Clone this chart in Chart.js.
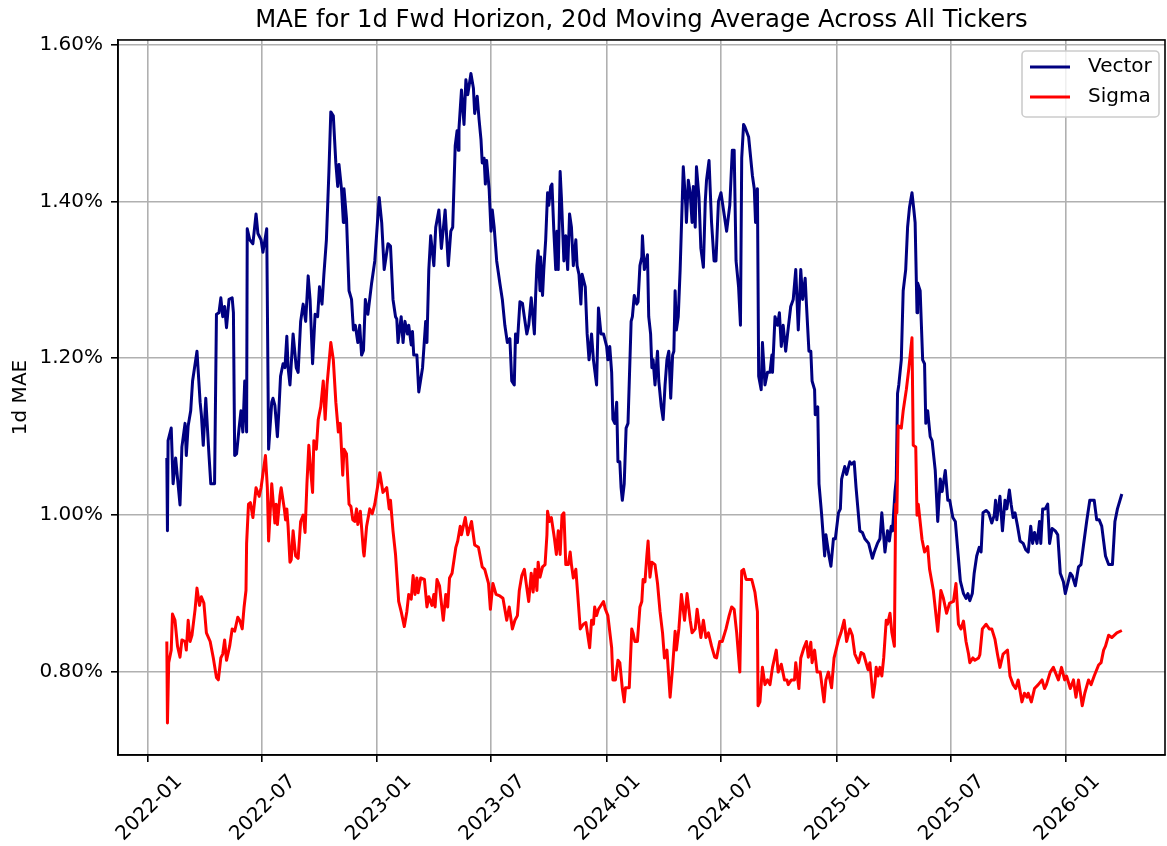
<!DOCTYPE html>
<html>
<head>
<meta charset="utf-8">
<title>MAE for 1d Fwd Horizon</title>
<script src="https://cdn.jsdelivr.net/npm/chart.js@4/dist/chart.umd.min.js"></script>
<style>
  html, body { margin: 0; padding: 0; background: #fff; }
  #chart-div { width: 1167px; height: 846px; }
</style>
</head>
<body>
<div id="chart-div"><canvas id="mae-chart" width="1167" height="846"></canvas></div>
<script>
// values are MAE in percent
const vectorDates = [
  '2022-01-31','2022-02-01','2022-02-02','2022-02-07','2022-02-10','2022-02-14','2022-02-21','2022-02-24','2022-03-01','2022-03-03',
  '2022-03-06','2022-03-10','2022-03-13','2022-03-20','2022-03-25','2022-03-27','2022-03-30','2022-04-03','2022-04-06','2022-04-08',
  '2022-04-11','2022-04-17','2022-04-20','2022-04-24','2022-04-27','2022-04-30','2022-05-03','2022-05-06','2022-05-10','2022-05-15',
  '2022-05-17','2022-05-19','2022-05-22','2022-05-26','2022-05-29','2022-06-01','2022-06-04','2022-06-07','2022-06-08','2022-06-12',
  '2022-06-17','2022-06-22','2022-06-25','2022-06-30','2022-07-03','2022-07-09','2022-07-12','2022-07-17','2022-07-19','2022-07-22',
  '2022-07-26','2022-07-28','2022-07-31','2022-08-04','2022-08-07','2022-08-10','2022-08-12','2022-08-15','2022-08-20','2022-08-25',
  '2022-08-28','2022-09-01','2022-09-05','2022-09-09','2022-09-13','2022-09-16','2022-09-20','2022-09-24','2022-09-28','2022-10-01',
  '2022-10-05','2022-10-08','2022-10-12','2022-10-16','2022-10-19','2022-10-23','2022-10-27','2022-10-30','2022-11-01','2022-11-05',
  '2022-11-08','2022-11-09','2022-11-13','2022-11-17','2022-11-21','2022-11-24','2022-11-27','2022-12-01','2022-12-04','2022-12-07',
  '2022-12-10','2022-12-13','2022-12-17','2022-12-23','2022-12-28','2023-01-04','2023-01-08','2023-01-12','2023-01-18','2023-01-22',
  '2023-01-26','2023-01-30','2023-02-01','2023-02-03','2023-02-08','2023-02-11','2023-02-14','2023-02-18','2023-02-20','2023-02-24',
  '2023-02-26','2023-02-28','2023-03-05','2023-03-08','2023-03-14','2023-03-19','2023-03-21','2023-03-24','2023-03-27','2023-04-01',
  '2023-04-04','2023-04-09','2023-04-13','2023-04-19','2023-04-24','2023-04-28','2023-05-01','2023-05-05','2023-05-08','2023-05-10',
  '2023-05-11','2023-05-15','2023-05-19','2023-05-22','2023-05-25','2023-05-30','2023-06-03','2023-06-05','2023-06-09','2023-06-12',
  '2023-06-15','2023-06-17','2023-06-20','2023-06-22','2023-06-24','2023-06-28','2023-07-01','2023-07-03','2023-07-06','2023-07-10',
  '2023-07-15','2023-07-19','2023-07-23','2023-07-27','2023-07-31','2023-08-03','2023-08-07','2023-08-09','2023-08-12','2023-08-16',
  '2023-08-20','2023-08-23','2023-08-27','2023-08-30','2023-09-03','2023-09-08','2023-09-10','2023-09-12','2023-09-14','2023-09-17',
  '2023-09-18','2023-09-21','2023-09-23','2023-09-26','2023-09-29','2023-10-01','2023-10-04','2023-10-06','2023-10-09','2023-10-12',
  '2023-10-14','2023-10-16','2023-10-19','2023-10-21','2023-10-25','2023-10-28','2023-10-31','2023-11-03','2023-11-06','2023-11-09',
  '2023-11-13','2023-11-15','2023-11-18','2023-11-21','2023-11-23','2023-11-28','2023-12-01','2023-12-04','2023-12-08','2023-12-11',
  '2023-12-16','2023-12-19','2023-12-23','2023-12-27','2024-01-01','2024-01-03','2024-01-06','2024-01-09','2024-01-11','2024-01-14',
  '2024-01-17','2024-01-19','2024-01-22','2024-01-24','2024-01-26','2024-01-29','2024-02-01','2024-02-04','2024-02-09','2024-02-11',
  '2024-02-14','2024-02-18','2024-02-20','2024-02-23','2024-02-26','2024-02-27','2024-03-01','2024-03-06','2024-03-08','2024-03-11',
  '2024-03-13','2024-03-15','2024-03-18','2024-03-22','2024-03-24','2024-03-28','2024-03-31','2024-04-03','2024-04-06','2024-04-09',
  '2024-04-12','2024-04-15','2024-04-17','2024-04-19','2024-04-21','2024-04-24','2024-04-27','2024-05-02','2024-05-06','2024-05-07',
  '2024-05-10','2024-05-13','2024-05-16','2024-05-18','2024-05-21','2024-05-23','2024-05-27','2024-05-30','2024-06-03','2024-06-06',
  '2024-06-08','2024-06-12','2024-06-16','2024-06-20','2024-06-23','2024-06-27','2024-07-01','2024-07-05','2024-07-10','2024-07-15',
  '2024-07-19','2024-07-22','2024-07-25','2024-07-29','2024-08-01','2024-08-03','2024-08-06','2024-08-08','2024-08-14','2024-08-20',
  '2024-08-23','2024-08-25','2024-08-28','2024-08-30','2024-09-03','2024-09-05','2024-09-09','2024-09-13','2024-09-17','2024-09-20',
  '2024-09-21','2024-09-25','2024-09-29','2024-10-02','2024-10-05','2024-10-08','2024-10-12','2024-10-15','2024-10-20','2024-10-24',
  '2024-10-28','2024-11-01','2024-11-05','2024-11-08','2024-11-12','2024-11-14','2024-11-18','2024-11-21','2024-11-23','2024-11-27',
  '2024-11-28','2024-12-02','2024-12-04','2024-12-08','2024-12-13','2024-12-15','2024-12-20','2024-12-23','2024-12-27','2024-12-30',
  '2025-01-04','2025-01-07','2025-01-09','2025-01-14','2025-01-17','2025-01-22','2025-01-25','2025-01-29','2025-02-01','2025-02-07',
  '2025-02-11','2025-02-15','2025-02-21','2025-02-27','2025-03-02','2025-03-07','2025-03-11','2025-03-14','2025-03-19','2025-03-23',
  '2025-03-26','2025-03-29','2025-03-31','2025-04-04','2025-04-06','2025-04-08','2025-04-10','2025-04-14','2025-04-17','2025-04-21',
  '2025-04-24','2025-04-27','2025-05-01','2025-05-04','2025-05-06','2025-05-09','2025-05-10','2025-05-14','2025-05-18','2025-05-21',
  '2025-05-23','2025-05-26','2025-05-30','2025-06-02','2025-06-07','2025-06-11','2025-06-15','2025-06-18','2025-06-23','2025-06-27',
  '2025-06-30','2025-07-05','2025-07-09','2025-07-17','2025-07-22','2025-07-26','2025-07-29','2025-08-01','2025-08-05','2025-08-08',
  '2025-08-12','2025-08-16','2025-08-19','2025-08-22','2025-08-27','2025-08-31','2025-09-05','2025-09-09','2025-09-11','2025-09-13',
  '2025-09-18','2025-09-22','2025-09-26','2025-09-29','2025-10-03','2025-10-06','2025-10-09','2025-10-12','2025-10-16','2025-10-20',
  '2025-10-25','2025-10-29','2025-11-02','2025-11-06','2025-11-09','2025-11-12','2025-11-16','2025-11-20','2025-11-22','2025-11-25',
  '2025-11-29','2025-12-03','2025-12-06','2025-12-10','2025-12-15','2025-12-19','2025-12-23','2025-12-28','2025-12-31','2026-01-08',
  '2026-01-11','2026-01-16','2026-01-21','2026-01-25','2026-01-29','2026-02-03','2026-02-08','2026-02-15','2026-02-19','2026-02-23',
  '2026-02-27','2026-03-05','2026-03-10','2026-03-16','2026-03-20','2026-03-24','2026-03-31'
];
const vectorValues = [
  1.073,0.980,1.095,1.111,1.040,1.073,1.013,1.087,1.117,1.076,
  1.114,1.133,1.171,1.209,1.144,1.128,1.089,1.149,1.106,1.078,
  1.040,1.040,1.256,1.258,1.277,1.253,1.266,1.239,1.275,1.277,
  1.258,1.076,1.078,1.111,1.133,1.106,1.171,1.106,1.365,1.351,
  1.346,1.384,1.359,1.351,1.335,1.365,1.084,1.144,1.149,1.140,
  1.100,1.128,1.177,1.193,1.188,1.228,1.188,1.166,1.231,1.188,
  1.182,1.247,1.269,1.247,1.305,1.275,1.193,1.256,1.253,1.291,
  1.269,1.307,1.351,1.438,1.514,1.509,1.449,1.419,1.447,1.416,
  1.373,1.416,1.378,1.286,1.275,1.236,1.242,1.220,1.242,1.204,
  1.210,1.275,1.256,1.296,1.324,1.405,1.373,1.313,1.346,1.343,
  1.275,1.253,1.250,1.220,1.253,1.220,1.247,1.231,1.242,1.217,
  1.234,1.204,1.204,1.157,1.188,1.247,1.220,1.313,1.356,1.318,
  1.367,1.389,1.340,1.389,1.318,1.362,1.367,1.471,1.490,1.465,
  1.493,1.542,1.498,1.555,1.536,1.563,1.544,1.512,1.534,1.504,
  1.479,1.449,1.455,1.422,1.452,1.416,1.362,1.389,1.367,1.324,
  1.296,1.275,1.242,1.220,1.225,1.171,1.166,1.231,1.220,1.272,
  1.270,1.253,1.231,1.242,1.277,1.231,1.280,1.318,1.337,1.286,
  1.329,1.280,1.313,1.351,1.411,1.395,1.419,1.422,1.362,1.313,
  1.362,1.313,1.438,1.405,1.324,1.356,1.313,1.384,1.367,1.318,
  1.351,1.318,1.307,1.269,1.307,1.291,1.231,1.198,1.231,1.198,
  1.166,1.264,1.231,1.231,1.215,1.198,1.215,1.182,1.122,1.117,
  1.144,1.068,1.068,1.035,1.019,1.040,1.111,1.117,1.247,1.253,
  1.280,1.269,1.272,1.318,1.329,1.356,1.313,1.332,1.253,1.231,
  1.188,1.198,1.166,1.209,1.171,1.138,1.122,1.166,1.198,1.209,
  1.149,1.204,1.209,1.286,1.236,1.253,1.313,1.444,1.395,1.373,
  1.427,1.411,1.373,1.419,1.367,1.444,1.405,1.340,1.316,1.400,
  1.427,1.452,1.373,1.324,1.324,1.400,1.411,1.389,1.362,1.395,
  1.465,1.465,1.324,1.291,1.242,1.455,1.498,1.495,1.482,1.433,
  1.416,1.373,1.416,1.177,1.160,1.220,1.166,1.182,1.182,1.204,
  1.182,1.253,1.242,1.258,1.215,1.242,1.209,1.231,1.266,1.275,
  1.313,1.236,1.313,1.275,1.302,1.269,1.209,1.209,1.171,1.160,
  1.128,1.138,1.040,1.003,0.948,0.975,0.948,0.935,0.970,0.970,
  1.003,1.008,1.046,1.062,1.052,1.068,1.065,1.068,1.035,0.980,
  0.978,0.970,0.964,0.945,0.953,0.964,0.970,1.003,0.953,0.980,
  0.967,0.986,0.980,1.030,1.046,1.155,1.166,1.198,1.286,1.313,
  1.367,1.392,1.411,1.389,1.373,1.258,1.296,1.286,1.198,1.193,
  1.117,1.133,1.100,1.095,1.057,0.992,1.046,1.030,1.057,1.019,
  1.019,0.997,0.992,0.916,0.900,0.894,0.900,0.891,0.900,0.926,
  0.948,0.959,0.953,1.003,1.006,1.003,0.990,1.000,1.019,0.994,
  1.024,0.980,1.019,1.008,1.032,1.013,0.997,1.003,0.986,0.967,
  0.964,0.956,0.953,0.986,0.964,0.978,0.964,0.992,0.964,1.008,
  1.008,1.014,0.964,0.983,0.980,0.975,0.926,0.915,0.900,0.926,
  0.923,0.910,0.934,0.937,0.962,0.992,1.019,1.019,0.994,0.994,
  0.986,0.948,0.937,0.937,0.992,1.008,1.027
];

const sigmaDates = [
  '2022-01-31','2022-02-01','2022-02-03','2022-02-07','2022-02-09','2022-02-13','2022-02-17','2022-02-21','2022-02-24','2022-03-01',
  '2022-03-03','2022-03-06','2022-03-09','2022-03-12','2022-03-17','2022-03-20','2022-03-24','2022-03-27','2022-03-31','2022-04-04',
  '2022-04-10','2022-04-15','2022-04-20','2022-04-23','2022-04-27','2022-04-30','2022-05-03','2022-05-06','2022-05-11','2022-05-15',
  '2022-05-19','2022-05-24','2022-05-27','2022-05-31','2022-06-03','2022-06-06','2022-06-07','2022-06-10','2022-06-13','2022-06-17',
  '2022-06-22','2022-06-27','2022-06-30','2022-07-07','2022-07-10','2022-07-12','2022-07-17','2022-07-22','2022-07-24','2022-07-26',
  '2022-07-30','2022-08-01','2022-08-06','2022-08-08','2022-08-10','2022-08-12','2022-08-15','2022-08-17','2022-08-20','2022-08-24',
  '2022-08-28','2022-09-01','2022-09-05','2022-09-08','2022-09-11','2022-09-14','2022-09-17','2022-09-20','2022-09-22','2022-09-26',
  '2022-09-29','2022-10-03','2022-10-07','2022-10-10','2022-10-13','2022-10-19','2022-10-23','2022-10-27','2022-10-31','2022-11-03',
  '2022-11-07','2022-11-09','2022-11-13','2022-11-17','2022-11-20','2022-11-23','2022-11-26','2022-11-29','2022-12-01','2022-12-05',
  '2022-12-10','2022-12-11','2022-12-15','2022-12-20','2022-12-24','2022-12-28','2023-01-05','2023-01-10','2023-01-16','2023-01-20',
  '2023-01-22','2023-01-26','2023-01-30','2023-02-04','2023-02-08','2023-02-13','2023-02-17','2023-02-20','2023-02-24','2023-02-27',
  '2023-03-02','2023-03-05','2023-03-07','2023-03-11','2023-03-17','2023-03-21','2023-03-24','2023-03-29','2023-04-01','2023-04-03',
  '2023-04-06','2023-04-10','2023-04-16','2023-04-20','2023-04-23','2023-04-26','2023-04-30','2023-05-06','2023-05-09','2023-05-13',
  '2023-05-15','2023-05-21','2023-05-25','2023-05-31','2023-06-05','2023-06-11','2023-06-17','2023-06-21','2023-06-27','2023-06-30',
  '2023-07-04','2023-07-09','2023-07-15','2023-07-20','2023-07-26','2023-07-30','2023-08-04','2023-08-08','2023-08-12','2023-08-15',
  '2023-08-19','2023-08-23','2023-08-27','2023-08-30','2023-09-03','2023-09-06','2023-09-09','2023-09-12','2023-09-14','2023-09-17',
  '2023-09-21','2023-09-25','2023-09-28','2023-09-29','2023-10-02','2023-10-05','2023-10-10','2023-10-13','2023-10-16','2023-10-19',
  '2023-10-22','2023-10-25','2023-10-28','2023-11-01','2023-11-04','2023-11-06','2023-11-09','2023-11-13','2023-11-16','2023-11-20',
  '2023-11-25','2023-11-29','2023-12-05','2023-12-08','2023-12-11','2023-12-13','2023-12-16','2023-12-19','2023-12-27','2023-12-30',
  '2024-01-03','2024-01-09','2024-01-11','2024-01-15','2024-01-19','2024-01-22','2024-01-26','2024-01-29','2024-01-31','2024-02-06',
  '2024-02-10','2024-02-12','2024-02-15','2024-02-19','2024-02-23','2024-02-26','2024-02-28','2024-03-02','2024-03-05','2024-03-07',
  '2024-03-10','2024-03-13','2024-03-18','2024-03-22','2024-03-26','2024-03-30','2024-04-02','2024-04-06','2024-04-11','2024-04-15',
  '2024-04-19','2024-04-21','2024-04-25','2024-04-29','2024-05-04','2024-05-08','2024-05-13','2024-05-16','2024-05-21','2024-05-24',
  '2024-05-30','2024-06-03','2024-06-07','2024-06-11','2024-06-16','2024-06-21','2024-06-24','2024-06-29','2024-07-03','2024-07-09',
  '2024-07-14','2024-07-18','2024-07-22','2024-07-26','2024-07-31','2024-08-03','2024-08-06','2024-08-10','2024-08-19','2024-08-24',
  '2024-08-28','2024-08-29','2024-09-01','2024-09-05','2024-09-09','2024-09-13','2024-09-17','2024-09-21','2024-09-27','2024-09-30',
  '2024-10-05','2024-10-10','2024-10-14','2024-10-16','2024-10-21','2024-10-26','2024-10-28','2024-11-02','2024-11-05','2024-11-10',
  '2024-11-14','2024-11-17','2024-11-21','2024-11-23','2024-11-27','2024-12-01','2024-12-06','2024-12-12','2024-12-15','2024-12-19',
  '2024-12-24','2024-12-28','2024-12-31','2025-01-04','2025-01-08','2025-01-13','2025-01-17','2025-01-22','2025-01-26','2025-01-30',
  '2025-02-05','2025-02-09','2025-02-13','2025-02-20','2025-02-23','2025-02-28','2025-03-03','2025-03-05','2025-03-08','2025-03-11',
  '2025-03-14','2025-03-17','2025-03-21','2025-03-23','2025-03-27','2025-03-30','2025-04-03','2025-04-05','2025-04-07','2025-04-09',
  '2025-04-14','2025-04-17','2025-04-22','2025-04-26','2025-05-01','2025-05-03','2025-05-07','2025-05-09','2025-05-11','2025-05-17',
  '2025-05-21','2025-05-26','2025-05-29','2025-06-04','2025-06-11','2025-06-16','2025-06-20','2025-06-25','2025-06-30','2025-07-06',
  '2025-07-10','2025-07-14','2025-07-18','2025-07-22','2025-07-26','2025-07-30','2025-08-01','2025-08-06','2025-08-09','2025-08-15',
  '2025-08-17','2025-08-21','2025-08-27','2025-09-01','2025-09-05','2025-09-10','2025-09-14','2025-09-18','2025-09-23','2025-09-30',
  '2025-10-04','2025-10-09','2025-10-13','2025-10-17','2025-10-23','2025-10-27','2025-10-31','2025-11-02','2025-11-07','2025-11-12',
  '2025-11-18','2025-11-24','2025-11-28','2025-12-01','2025-12-07','2025-12-12','2025-12-16','2025-12-20','2025-12-25','2025-12-30',
  '2026-01-02','2026-01-08','2026-01-13','2026-01-17','2026-01-21','2026-01-27','2026-01-31','2026-02-06','2026-02-10','2026-02-15',
  '2026-02-22','2026-02-26','2026-03-02','2026-03-05','2026-03-10','2026-03-15','2026-03-23','2026-03-31'
];
const sigmaValues = [
  0.839,0.735,0.812,0.828,0.874,0.866,0.833,0.819,0.841,0.839,
  0.828,0.866,0.839,0.847,0.880,0.907,0.885,0.896,0.888,0.850,
  0.839,0.818,0.793,0.790,0.818,0.823,0.841,0.815,0.833,0.855,
  0.852,0.870,0.866,0.855,0.883,0.904,0.964,1.014,1.016,0.997,
  1.035,1.024,1.035,1.076,1.035,0.967,1.040,0.990,1.014,0.988,
  1.024,1.035,1.008,0.994,1.008,0.986,0.940,0.943,0.980,0.948,
  0.945,0.992,1.000,0.978,1.040,1.089,1.057,1.029,1.095,1.084,
  1.122,1.138,1.171,1.122,1.166,1.220,1.198,1.144,1.106,1.117,
  1.051,1.084,1.078,1.014,1.011,0.994,0.992,1.008,0.988,1.005,
  0.953,0.948,0.986,1.008,1.002,1.014,1.054,1.029,1.035,1.008,
  1.019,0.980,0.950,0.890,0.877,0.858,0.877,0.899,0.893,0.923,
  0.899,0.920,0.901,0.920,0.918,0.883,0.896,0.885,0.899,0.883,
  0.918,0.910,0.866,0.899,0.883,0.920,0.926,0.959,0.967,0.986,
  0.975,0.997,0.975,0.992,0.962,0.959,0.934,0.931,0.913,0.880,
  0.913,0.899,0.897,0.894,0.866,0.883,0.855,0.866,0.872,0.904,
  0.923,0.931,0.907,0.890,0.926,0.902,0.931,0.904,0.940,0.921,
  0.934,0.937,0.975,1.005,0.992,0.997,0.970,0.950,0.980,0.950,
  1.000,1.003,0.937,0.937,0.953,0.937,0.920,0.931,0.899,0.855,
  0.861,0.863,0.831,0.866,0.861,0.883,0.872,0.880,0.890,0.880,
  0.872,0.831,0.790,0.790,0.815,0.812,0.779,0.762,0.780,0.780,
  0.855,0.850,0.839,0.839,0.883,0.890,0.918,0.915,0.948,0.967,
  0.921,0.940,0.937,0.913,0.877,0.850,0.818,0.828,0.768,0.806,
  0.852,0.828,0.855,0.899,0.866,0.900,0.866,0.850,0.855,0.880,
  0.844,0.866,0.844,0.850,0.833,0.819,0.818,0.839,0.839,0.855,
  0.872,0.883,0.880,0.850,0.800,0.929,0.931,0.918,0.918,0.902,
  0.877,0.757,0.762,0.806,0.784,0.790,0.784,0.806,0.828,0.800,
  0.810,0.790,0.790,0.784,0.790,0.790,0.812,0.779,0.818,0.831,
  0.839,0.819,0.838,0.812,0.828,0.800,0.800,0.762,0.790,0.800,
  0.780,0.818,0.828,0.841,0.850,0.866,0.839,0.855,0.847,0.823,
  0.812,0.825,0.823,0.803,0.812,0.768,0.785,0.806,0.795,0.806,
  0.795,0.818,0.866,0.861,0.875,0.850,0.833,1.014,1.003,1.114,
  1.111,1.133,1.160,1.187,1.226,1.089,1.087,1.000,1.014,0.969,
  0.953,0.960,0.931,0.904,0.852,0.904,0.894,0.875,0.888,0.890,
  0.913,0.861,0.855,0.865,0.839,0.823,0.812,0.818,0.815,0.818,
  0.822,0.855,0.861,0.855,0.855,0.842,0.823,0.806,0.823,0.828,
  0.795,0.784,0.779,0.790,0.762,0.773,0.768,0.773,0.762,0.779,
  0.784,0.790,0.779,0.784,0.800,0.806,0.798,0.790,0.806,0.790,
  0.795,0.779,0.790,0.768,0.790,0.757,0.773,0.790,0.784,0.795,
  0.809,0.812,0.828,0.833,0.847,0.844,0.850,0.853
];

const xTickLabels = ['2022-01', '2022-07', '2023-01', '2023-07', '2024-01', '2024-07', '2025-01', '2025-07', '2026-01'];
const yTickValues = [0.8, 1.0, 1.2, 1.4, 1.6];

const DAY = 86400000;
const origin = Date.parse('2022-01-01');
const dayOf = (s) => (Date.parse(s) - origin) / DAY;

const toPoints = (dates, values) => dates.map((d, i) => ({ x: dayOf(d), y: values[i] }));

Chart.defaults.font.family = "'DejaVu Sans', sans-serif";
Chart.defaults.color = '#000';

// matplotlib style box around the axes + legend in upper right
const framePlugin = {
    id: 'frame',
    afterDatasetsDraw(chart) {
        const { ctx, chartArea } = chart;
        ctx.save();
        ctx.strokeStyle = '#000';
        ctx.lineWidth = 1.6;
        ctx.strokeRect(chartArea.left, chartArea.top, chartArea.right - chartArea.left, chartArea.bottom - chartArea.top);

        const w = 137, h = 66;
        const x = chartArea.right - 6 - w, y = chartArea.top + 11;
        ctx.beginPath();
        ctx.roundRect(x, y, w, h, 4);
        ctx.fillStyle = 'rgba(255,255,255,0.8)';
        ctx.fill();
        ctx.strokeStyle = '#cccccc';
        ctx.lineWidth = 1.6;
        ctx.stroke();

        const entries = [['Vector', '#000080'], ['Sigma', '#ff0000']];
        ctx.font = "20px 'DejaVu Sans'";
        ctx.textBaseline = 'middle';
        ctx.textAlign = 'left';
        entries.forEach(([label, color], i) => {
            const cy = y + 16 + i * 30;
            ctx.beginPath();
            ctx.moveTo(x + 8, cy);
            ctx.lineTo(x + 48, cy);
            ctx.strokeStyle = color;
            ctx.lineWidth = 3;
            ctx.stroke();
            ctx.fillStyle = '#000';
            ctx.fillText(label, x + 66, cy);
        });
        ctx.restore();
    }
};

const chartJSConfig = {
    type: 'line',
    data: {
        datasets: [
            {
                label: 'Vector',
                data: toPoints(vectorDates, vectorValues),
                borderColor: '#000080',
                backgroundColor: '#000080',
                borderWidth: 3,
                pointRadius: 0,
                borderJoinStyle: 'round',
                fill: false,
                order: 2
            },
            {
                label: 'Sigma',
                data: toPoints(sigmaDates, sigmaValues),
                borderColor: '#ff0000',
                backgroundColor: '#ff0000',
                borderWidth: 3,
                pointRadius: 0,
                borderJoinStyle: 'round',
                fill: false,
                order: 1
            }
        ]
    },
    options: {
        responsive: false,
        animation: false,
        devicePixelRatio: 1,
        layout: { padding: { left: 0, right: 2, top: 0, bottom: 0 } },
        plugins: {
            legend: { display: false },
            tooltip: { enabled: false },
            title: {
                display: true,
                fullSize: false,
                text: 'MAE for 1d Fwd Horizon, 20d Moving Average Across All Tickers',
                font: { size: 24.3, weight: 'normal' },
                color: '#000',
                padding: { top: 6, bottom: 4.8 }
            }
        },
        scales: {
            x: {
                type: 'linear',
                min: -47.7,
                max: 1618.7,
                afterBuildTicks: (scale) => {
                    scale.ticks = xTickLabels.map((l) => ({ value: dayOf(l + '-01') }));
                },
                afterFit: (scale) => { scale.height = 91; },
                ticks: {
                    autoSkip: false,
                    minRotation: 45,
                    maxRotation: 45,
                    padding: 8,
                    labelOffset: 31,
                    font: { size: 20 },
                    color: '#000',
                    callback: (value, index) => xTickLabels[index]
                },
                grid: {
                    color: '#b0b0b0',
                    lineWidth: 1.6,
                    tickColor: '#000',
                    tickLength: 7,
                    tickWidth: 1.6
                },
                border: { display: true, color: '#000', width: 1.6 }
            },
            y: {
                type: 'linear',
                min: 0.6943,
                max: 1.6057,
                afterBuildTicks: (scale) => {
                    scale.ticks = yTickValues.map((v) => ({ value: v }));
                },
                afterFit: (scale) => { scale.width = 118; },
                title: {
                    display: true,
                    text: '1d MAE',
                    font: { size: 20 },
                    color: '#000',
                    padding: { top: 8.5, bottom: 0 }
                },
                ticks: {
                    padding: 8,
                    font: { size: 20 },
                    color: '#000',
                    callback: (value) => value.toFixed(2) + '%'
                },
                grid: {
                    color: '#b0b0b0',
                    lineWidth: 1.6,
                    tickColor: '#000',
                    tickLength: 7,
                    tickWidth: 1.6
                },
                border: { display: true, color: '#000', width: 1.6 }
            }
        }
    },
    plugins: [framePlugin]
};

const ctx = document.getElementById('mae-chart').getContext('2d');
window.maeChart = new Chart(ctx, chartJSConfig);
</script>
</body>
</html>
